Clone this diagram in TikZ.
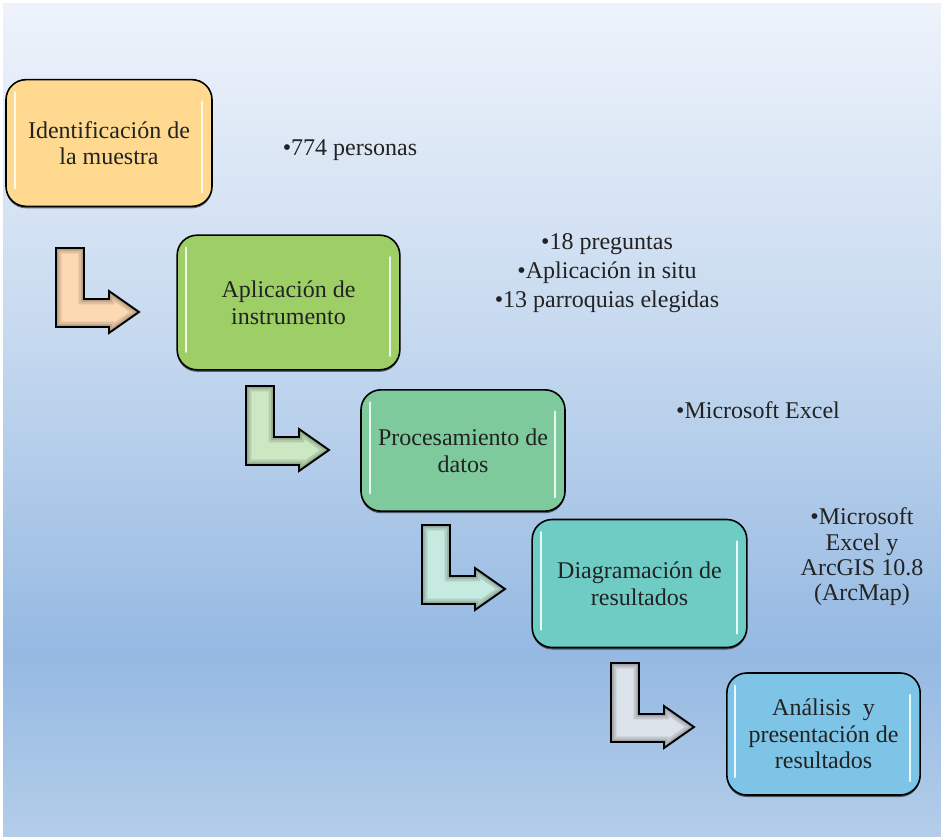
\documentclass[tikz,border=0pt]{standalone}
\usepackage{fontspec}
\setmainfont{Liberation Serif}
\usetikzlibrary{shadows}

\definecolor{bgtop}{HTML}{EEF3FB}
\definecolor{bgmid}{HTML}{C6D9EF}
\definecolor{bgdeep}{HTML}{95B9E2}
\definecolor{bgbot}{HTML}{B3CDE9}
\definecolor{ident}{HTML}{FFD98F}
\definecolor{aplic}{HTML}{9DCF66}
\definecolor{proc}{HTML}{7ECA9C}
\definecolor{diag}{HTML}{6ECCC5}
\definecolor{anal}{HTML}{7DC4E6}
\definecolor{arrpeach}{HTML}{FDD9B3}
\definecolor{arrgreen}{HTML}{CBE8C3}
\definecolor{arrmint}{HTML}{C6EADF}
\definecolor{arrgray}{HTML}{DCE2EA}
\definecolor{ink}{HTML}{222222}

\pgfdeclareverticalshading{bgshade}{100bp}{color(0bp)=(bgbot); color(25bp)=(bgbot); color(36bp)=(bgdeep); color(55bp)=(bgmid); color(75bp)=(bgtop); color(100bp)=(bgtop)}

\newcommand\larrowpath{(0,0) -- (28,0) -- (28,51) -- (53,51) -- (53,43) -- (83,64) -- (53,85) -- (53,79) -- (0,79) -- cycle}

\begin{document}
\begin{tikzpicture}[
    x=0.75pt, y=-0.75pt,
    stage/.style={rectangle, draw=black, line width=1.2pt, rounded corners=15pt,
        align=center, text=ink, font=\fontsize{18}{20}\selectfont,
        drop shadow={shadow xshift=0pt, shadow yshift=-1.5pt, opacity=0.55, fill=black}},
    note/.style={align=center, text=ink, font=\fontsize{18}{22}\selectfont},
    gloss/.style={white, line width=1.5pt, line cap=round, opacity=0.85},
    pics/bentarrow/.style={code={
        \begin{scope}
            \clip \larrowpath;
            \fill[#1] \larrowpath;
            \draw[#1!88!black, line width=8pt] \larrowpath;
            \draw[#1!78!black, line width=4.5pt] \larrowpath;
            \draw[#1!65!black, line width=2pt] \larrowpath;
        \end{scope}
        \draw[black, line width=1.4pt] \larrowpath;
    }}
]
\useasboundingbox (0,0) rectangle (941,836);
\shade[shading=bgshade] (3,3) rectangle (941,836);

% arrows between the steps
\pic at (56,248) {bentarrow=arrpeach};
\pic at (246,386) {bentarrow=arrgreen};
\pic at (422,525) {bentarrow=arrmint};
\pic at (611,663) {bentarrow=arrgray};

% steps
\node (Identificacion) [stage, fill=ident, minimum width=154.5pt, minimum height=95pt] at (109,143)
    {Identificación de\\la muestra};
\node (Aplicacion) [stage, fill=aplic, minimum width=167pt, minimum height=101pt] at (288.5,302.5)
    {Aplicación de\\instrumento};
\node (Procesamiento) [stage, fill=proc, minimum width=153pt, minimum height=91pt] at (463,450.5)
    {Procesamiento de\\datos};
\node (Diagramacion) [stage, fill=diag, minimum width=161pt, minimum height=96pt] at (639.5,583.5)
    {Diagramación de\\resultados};
\node (Analisis) [stage, fill=anal, minimum width=145pt, minimum height=91.5pt] at (823.5,734)
    {Análisis\ \ y\\presentación de\\resultados};

\foreach \b in {Identificacion,Aplicacion,Procesamiento,Diagramacion,Analisis} {
    \draw[gloss] ([shift={(7pt,-10pt)}]\b.north west) -- ([shift={(7pt,14pt)}]\b.south west);
    \draw[gloss] ([shift={(-8pt,-17pt)}]\b.north east) -- ([shift={(-8pt,11pt)}]\b.south east);
}

% notes
\node (personas) [note] at (350,150) {•774 personas};
\node (preguntas) [note] at (607,273) {•18 preguntas\\•Aplicación in situ\\•13 parroquias elegidas};
\node (excel) [note] at (758,410) {•Microsoft Excel};
\node (arcgis) [note, font=\fontsize{18}{19}\selectfont] at (862,557)
    {•Microsoft\\Excel y\\ArcGIS 10.8\\(ArcMap)};
\end{tikzpicture}
\end{document}
